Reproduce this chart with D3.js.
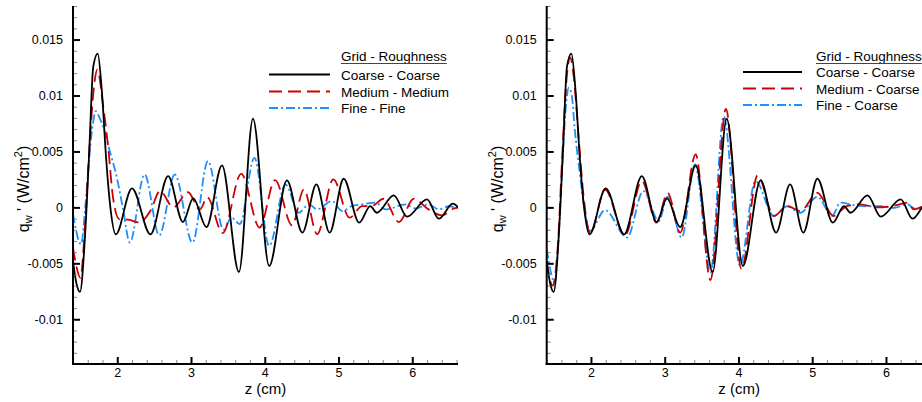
<!DOCTYPE html>
<html>
<head>
<meta charset="utf-8">
<script src="https://cdn.jsdelivr.net/npm/d3@7"></script>
<style>
  body { margin: 0; background: #fff; }
  text { font-family: "Liberation Sans", Arial, Helvetica, sans-serif; fill: #000; }
</style>
</head>
<body>
<svg id="chart" width="922" height="402"></svg>
<script>
// axis ticks
const xTicks = [2, 3, 4, 5, 6];
const yTicks = [-0.01, -0.005, 0, 0.005, 0.01, 0.015];
const yTickLabels = ["-0.01", "-0.005", "0", "0.005", "0.01", "0.015"];

// Coarse - Coarse (same run in both panels)
const coarseZ = [1.40,1.45,1.495,1.56,1.62,1.675,1.735,1.79,1.85,1.90,1.98,2.20,2.45,2.69,2.89,3.03,3.21,3.42,3.65,3.84,4.06,4.30,4.51,4.70,4.88,5.07,5.28,5.43,5.52,5.75,5.93,6.20,6.36,6.55,6.62];
const coarseQ = [-0.0048,-0.0069,-0.00756,-0.0029,0.0050,0.0126,0.01375,0.0105,0.0043,0.0004,-0.00241,0.0017,-0.00241,0.0028,-0.00131,0.0008,-0.00176,0.00375,-0.00577,0.00792,-0.00524,0.00241,-0.00226,0.00205,-0.00226,0.00256,-0.00137,0.00012,-0.00048,0.00107,-0.00083,0.00071,-0.00101,0.00033,0.0];

// left: Medium - Medium
const leftMediumZ = [1.40,1.45,1.50,1.56,1.62,1.68,1.73,1.81,1.88,1.94,2.03,2.15,2.30,2.45,2.58,2.76,2.96,3.12,3.22,3.43,3.68,3.93,4.14,4.37,4.53,4.71,4.93,5.15,5.32,5.45,5.61,5.82,6.02,6.22,6.40,6.56,6.62];
const leftMediumQ = [-0.0036,-0.0054,-0.0063,-0.0020,0.0050,0.0105,0.0123,0.0090,0.0052,0.0010,-0.00107,-0.0011,-0.00135,-0.0003,0.00146,0.0000,0.00135,-0.0002,0.0009,-0.0023,0.0030,-0.0018,0.00244,-0.0016,0.0016,-0.0024,0.0025,-0.00092,0.00012,0.00012,0.00077,-0.00131,0.00077,-0.00018,-0.00071,-0.00012,0.0];

// left: Fine - Fine
const leftFineZ = [1.40,1.51,1.56,1.60,1.66,1.71,1.76,1.81,1.90,1.99,2.08,2.17,2.37,2.57,2.78,3.02,3.23,3.44,3.55,3.66,3.86,4.06,4.28,4.46,4.60,4.71,4.91,5.05,5.18,5.32,5.50,5.64,5.91,6.05,6.22,6.36,6.50,6.62];
const leftFineQ = [-0.0006,-0.0033,-0.0005,0.0028,0.0070,0.0086,0.0080,0.0072,0.0050,0.0028,-0.0002,-0.00315,0.00295,-0.0025,0.00295,-0.00315,0.00414,-0.0020,-0.0009,-0.0015,0.00443,-0.00345,0.00205,-0.00048,0.00027,-0.00018,0.00057,-0.00033,0.00012,0.00027,0.00042,-0.00018,0.00027,-0.0001,0.00027,-0.00018,0.0001,-0.0001];

// right: Medium - Coarse
const rightMediumZ = [1.40,1.48,1.55,1.61,1.67,1.716,1.77,1.83,1.90,1.99,2.19,2.46,2.69,2.89,3.04,3.21,3.42,3.62,3.83,4.04,4.26,4.48,4.66,4.84,5.07,5.29,5.47,5.65,5.88,6.11,6.29,6.38,6.50,6.62];
const rightMediumQ = [-0.0049,-0.0070,-0.0035,0.0045,0.0115,0.0134,0.0115,0.0065,0.0010,-0.0023,0.0016,-0.0025,0.00235,-0.00137,0.0013,-0.00226,0.00473,-0.0065,0.0088,-0.0055,0.00286,-0.00077,0.00012,-0.00033,0.0013,-0.00077,0.00012,0.00027,0.0000,0.00015,0.00042,-0.00018,0.00005,0.0];

// right: Fine - Coarse
const rightFineZ = [1.40,1.51,1.56,1.61,1.66,1.70,1.74,1.78,1.85,1.92,1.99,2.19,2.49,2.71,2.92,3.04,3.23,3.41,3.62,3.80,4.02,4.23,4.48,4.66,4.84,5.07,5.27,5.38,5.56,5.75,5.93,6.11,6.29,6.38,6.50,6.62];
const rightFineQ = [-0.00375,-0.0067,-0.0030,0.0035,0.0090,0.0107,0.0100,0.0070,0.0030,-0.0005,-0.0021,-0.00024,-0.0027,0.00146,-0.00122,0.00095,-0.0027,0.00384,-0.0058,0.00815,-0.0052,0.00235,-0.00077,0.0001,-0.00048,0.00095,-0.00077,0.00042,0.0002,0.0001,0.0001,-0.00005,0.0003,-0.0001,-0.0001,0.0];

const leftLabels = ["Coarse - Coarse", "Medium - Medium", "Fine - Fine"];
const rightLabels = ["Coarse - Coarse", "Medium - Coarse", "Fine - Coarse"];

const styles = [
  { color: "#000000", dash: null },
  { color: "#d00000", dash: "13,6" },
  { color: "#1e8fff", dash: "9,3,2,3" }
];

const svg = d3.select("#chart");
const W = 385, TOP = 6, BOTTOM = 364;

function zip(zs, qs) { return zs.map((z, i) => ({ z, q: qs[i] })); }

function drawPanel(x0, id, series, labels, legRows) {
  const x = d3.scaleLinear().domain([1.4, 6.62]).range([x0, x0 + W]);
  const y = d3.scaleLinear().domain([-0.014, 0.018]).range([BOTTOM, TOP]);
  const g = svg.append("g");

  g.append("clipPath").attr("id", "clip" + id)
    .append("rect").attr("x", x0).attr("y", TOP).attr("width", W).attr("height", BOTTOM - TOP);

  const line = d3.line().x(d => x(d.z)).y(d => y(d.q)).curve(d3.curveMonotoneX);
  const lines = g.append("g").attr("clip-path", `url(#clip${id})`);
  // fine first, then medium, coarse on top
  [2, 1, 0].forEach(i => {
    lines.append("path")
      .datum(series[i])
      .attr("d", line)
      .attr("fill", "none")
      .attr("stroke", styles[i].color)
      .attr("stroke-width", 1.8)
      .attr("stroke-dasharray", styles[i].dash)
      .attr("stroke-linejoin", "round");
  });

  // minor ticks
  const xMinor = d3.range(7, 34).map(i => +(i * 0.2).toFixed(1)).filter(v => !xTicks.includes(v));
  const yMinor = d3.range(-14, 19).map(i => i / 1000).filter(v => !yTicks.some(t => Math.abs(t - v) < 1e-9));
  g.append("g").attr("transform", `translate(0,${BOTTOM})`)
    .call(d3.axisBottom(x).tickValues(xMinor).tickSize(-4).tickFormat(""))
    .call(a => a.select(".domain").remove())
    .selectAll("line").attr("stroke", "#888").attr("stroke-width", 1);
  g.append("g").attr("transform", `translate(${x0},0)`)
    .call(d3.axisLeft(y).tickValues(yMinor).tickSize(-4).tickFormat(""))
    .call(a => a.select(".domain").remove())
    .selectAll("line").attr("stroke", "#888").attr("stroke-width", 1);

  // major ticks
  const xa = g.append("g").attr("transform", `translate(0,${BOTTOM})`)
    .call(d3.axisBottom(x).tickValues(xTicks).tickSize(-7).tickPadding(4).tickFormat(d3.format("d")));
  xa.select(".domain").remove();
  xa.selectAll("line").attr("stroke", "#000").attr("stroke-width", 2);
  xa.selectAll("text").attr("font-size", 12.5).attr("font-family", null);

  const ya = g.append("g").attr("transform", `translate(${x0},0)`)
    .call(d3.axisLeft(y).tickValues(yTicks).tickSize(-7).tickPadding(10).tickFormat((d, i) => yTickLabels[i]));
  ya.select(".domain").remove();
  ya.selectAll("line").attr("stroke", "#000").attr("stroke-width", 2);
  ya.selectAll("text").attr("font-size", 12.5).attr("font-family", null);

  // axis lines
  g.append("line").attr("x1", x0).attr("x2", x0).attr("y1", TOP).attr("y2", BOTTOM + 1)
    .attr("stroke", "#000").attr("stroke-width", 2);
  g.append("line").attr("x1", x0 - 1).attr("x2", x0 + W).attr("y1", BOTTOM).attr("y2", BOTTOM)
    .attr("stroke", "#000").attr("stroke-width", 2);

  // axis titles
  g.append("text").attr("x", x0 + W / 2).attr("y", 394).attr("text-anchor", "middle")
    .attr("font-size", 15).text("z (cm)");
  const yl = g.append("text")
    .attr("transform", `translate(${x0 - 44},189) rotate(-90)`)
    .attr("text-anchor", "middle").attr("font-size", 16);
  yl.append("tspan").text("q");
  yl.append("tspan").attr("font-size", 11).attr("dy", 3).text("w");
  yl.append("tspan").attr("dy", -3).text(" ' (W/cm");
  yl.append("tspan").attr("font-size", 11).attr("dy", -7).text("2");
  yl.append("tspan").attr("dy", 7).text(")");

  // legend
  const lg = g.append("g");
  const tx = legRows.textX;
  const head = lg.append("text").attr("x", tx).attr("y", 60.5).attr("font-size", 13.5).text("Grid - Roughness");
  const hw = head.node().getComputedTextLength();
  lg.append("line").attr("x1", tx).attr("x2", tx + hw).attr("y1", 63.5).attr("y2", 63.5)
    .attr("stroke", "#444").attr("stroke-width", 1);
  labels.forEach((lab, i) => {
    const base = legRows.base[i];
    lg.append("line")
      .attr("x1", legRows.lineX[0]).attr("x2", legRows.lineX[1])
      .attr("y1", base - 5).attr("y2", base - 5)
      .attr("stroke", styles[i].color).attr("stroke-width", 1.8)
      .attr("stroke-dasharray", styles[i].dash);
    lg.append("text").attr("x", tx).attr("y", base).attr("font-size", 13.5).text(lab);
  });
}

drawPanel(73, "L",
  [zip(coarseZ, coarseQ), zip(leftMediumZ, leftMediumQ), zip(leftFineZ, leftFineQ)],
  leftLabels,
  { textX: 341, lineX: [269, 330], base: [79.5, 96.5, 113] });

drawPanel(546.7, "R",
  [zip(coarseZ, coarseQ), zip(rightMediumZ, rightMediumQ), zip(rightFineZ, rightFineQ)],
  rightLabels,
  { textX: 816, lineX: [743, 802], base: [77, 93.5, 110] });
</script>
</body>
</html>
